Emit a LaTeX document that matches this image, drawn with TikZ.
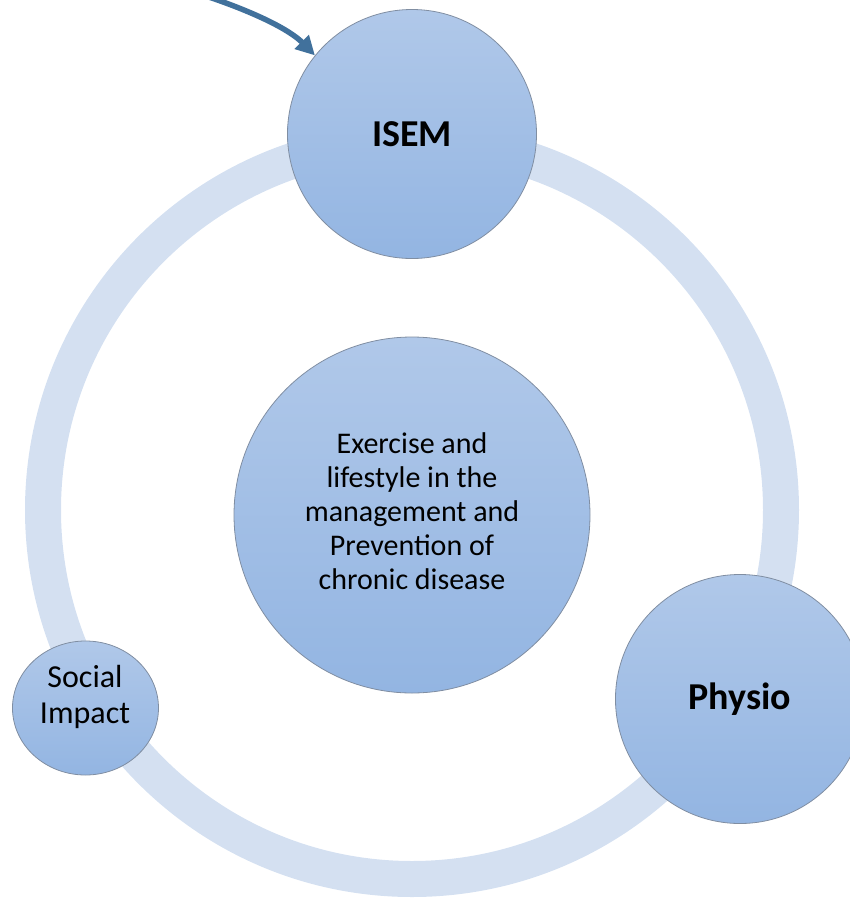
\documentclass[tikz,border=0pt]{standalone}
\usepackage{fontspec}
\setmainfont{Carlito}
\usetikzlibrary{arrows.meta,shapes.geometric}
\definecolor{ringblue}{RGB}{212,224,241}
\definecolor{disctop}{RGB}{176,200,233}
\definecolor{discbottom}{RGB}{147,181,226}
\definecolor{discedge}{RGB}{128,142,162}
\definecolor{arrowblue}{RGB}{65,113,156}
\begin{document}
\begin{tikzpicture}[x=1pt,y=-1pt,
  disc/.style={draw=discedge, line width=0.8pt, top color=disctop,
    bottom color=discbottom, inner sep=0pt},
  round/.style={disc, circle},
  oval/.style={disc, ellipse},
  bodytext/.style={align=center, font=\fontsize{30}{34}\selectfont},
  sidetext/.style={align=center, font=\fontsize{32}{36}\selectfont},
  headtext/.style={font=\fontsize{38}{44}\selectfont\bfseries},
  pointer/.style={arrowblue, line width=5.5pt,
    -{Triangle[length=19pt,width=19pt]}}]
\useasboundingbox (0,0) rectangle (850,898);
\clip (0,0) rectangle (850,898);

% cycle ring behind the discs
\draw[ringblue, line width=36pt] (412,510) circle[radius=369pt];

% central topic
\node[round, minimum size=356pt] (core) at (412,515) {};
\node[bodytext] (coretext) at (412,511)
  {Exercise and\\lifestyle in the\\management and\\Prevention of\\chronic disease};

% discs on the ring
\node[round, minimum size=249pt, headtext] (isem) at (412,134) {ISEM};
\node[round, minimum size=249pt, headtext] (physio) at (740,699) {Physio};
\node[oval, minimum width=146pt, minimum height=134pt] (social) at (85.5,708) {};
\node[sidetext] (socialtext) at (85,697) {Social\\Impact};

% incoming arrow
\coordinate (src) at (200,-6);
\draw[pointer] (src) .. controls (255,12) and (290,30) .. (isem.141.6);
\end{tikzpicture}
\end{document}
